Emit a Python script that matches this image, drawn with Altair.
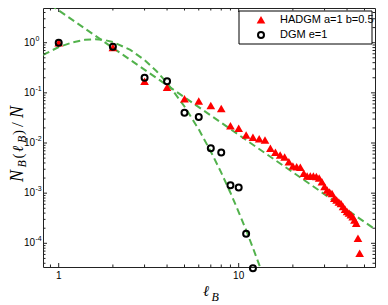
import altair as alt
import pandas as pd

# ---- data ----
dgm_x = [1, 2, 3, 4, 5, 6, 7, 8, 9, 10, 11, 12]
dgm_y = [1.0, 0.83, 0.20, 0.17, 0.040, 0.033, 0.0079, 0.0065, 0.00143, 0.0013, 1.55e-4, 3.2e-5]

had_x = list(range(1, 46)) + [46, 47]
had_y = [1.0, 0.80, 0.17, 0.13, 0.076, 0.069, 0.056, 0.049, 0.0221, 0.0196,
         0.01445, 0.0130, 0.0122, 0.01148, 0.00784, 0.00653, 0.00577, 0.00526, 0.00424, 0.00348,
         0.00337, 0.00327, 0.00249, 0.00220, 0.00220, 0.00220, 0.00215, 0.00200, 0.00169, 0.00135,
         0.00116, 0.00105, 0.00099, 0.00079, 0.00073, 0.00067, 0.00062, 0.00054, 0.00048, 0.00043,
         0.00040, 0.00037, 0.00034, 0.00029, 0.00025, 0.000126, 0.0000633]

fit_had_x = [0.8, 2, 5, 10, 20, 60]
fit_had_y = [7.65, 0.788, 0.0815, 0.01457, 0.00261, 1.69e-4]

fit_dgm_x = [0.818, 1.0, 1.2, 1.4, 1.6, 1.8, 2.0, 2.5, 3.0, 3.5, 4.0, 5.0, 6.0, 7.0, 8.0, 9.0, 10.0, 11.0, 12.0, 13.5]
fit_dgm_y = [0.57, 0.82, 1.02, 1.14, 1.17, 1.13, 1.03, 0.72, 0.45, 0.27, 0.158, 0.0535, 0.0187, 0.00676,
             0.00257, 0.00102, 4.2e-4, 1.83e-4, 8.1e-5, 2.6e-5]

x_major = [1, 10]
x_labels = ["1", "10"]
x_minor = [0.9, 2, 3, 4, 5, 6, 7, 8, 9, 20, 30, 40, 50]
y_major = [1, 0.1, 0.01, 0.001, 0.0001]
y_exp = ["0", "-1", "-2", "-3", "-4"]
y_minor = [m * d for d in [1, 0.1, 0.01, 0.001, 0.0001, 0.00001] for m in [2, 3, 4, 5, 6, 7, 8, 9]
           if 3.37e-5 < m * d < 4.92]

legend_labels = ["HADGM a=1 b=0.5", "DGM e=1"]

# ---- layout ----
W, H = 332, 259
GREEN = "#52b24c"
TICK = "#222222"
xs = alt.Scale(type="log", domain=[0.818, 57.2], nice=False)
ys = alt.Scale(type="log", domain=[3.37e-5, 4.92], nice=False)

dgm = pd.DataFrame({"x": dgm_x, "y": dgm_y})
had = pd.DataFrame({"x": had_x, "y": had_y})
fh = pd.DataFrame({"x": fit_had_x, "y": fit_had_y})
fd = pd.DataFrame({"x": fit_dgm_x, "y": fit_dgm_y})
one = pd.DataFrame({"a": [0]})

X = lambda: alt.X("x:Q", scale=xs, axis=None)
Y = lambda: alt.Y("y:Q", scale=ys, axis=None)

line_had = alt.Chart(fh).mark_line(clip=True, color=GREEN, strokeWidth=2, strokeDash=[7, 4]).encode(x=X(), y=Y())
line_dgm = alt.Chart(fd).mark_line(clip=True, color=GREEN, strokeWidth=2, strokeDash=[7, 4]).encode(x=X(), y=Y())

tri = alt.Chart(had).mark_point(shape="triangle-up", filled=True, size=75, color="red", opacity=1).encode(x=X(), y=Y())
circ = alt.Chart(dgm).mark_point(shape="circle", filled=False, size=36, strokeWidth=2, color="black",
                                 opacity=1).encode(x=X(), y=Y())


def xticks(vals, L):
    d = pd.DataFrame({"x": vals})
    b = alt.Chart(d).mark_rule(color=TICK, strokeWidth=1).encode(x=X(), y=alt.value(H), y2=alt.value(H - L))
    t = alt.Chart(d).mark_rule(color=TICK, strokeWidth=1).encode(x=X(), y=alt.value(0), y2=alt.value(L))
    return [b, t]


def yticks(vals, L):
    d = pd.DataFrame({"y": vals})
    l = alt.Chart(d).mark_rule(color=TICK, strokeWidth=1).encode(y=Y(), x=alt.value(0), x2=alt.value(L))
    r = alt.Chart(d).mark_rule(color=TICK, strokeWidth=1).encode(y=Y(), x=alt.value(W), x2=alt.value(W - L))
    return [l, r]


ticks = xticks(x_major, 4) + xticks(x_minor, 2.5) + yticks(y_major, 4) + yticks(y_minor, 2.5)

xlab = pd.DataFrame({"x": x_major, "t": x_labels})
xlabels = alt.Chart(xlab).mark_text(align="center", baseline="middle", fontSize=10, font="Liberation Sans",
                                    color="black").encode(x=X(), y=alt.value(H + 9), text="t:N")

ylab = pd.DataFrame({"y": y_major, "e": y_exp})
ybase = alt.Chart(ylab).mark_text(align="right", baseline="middle", fontSize=10, font="Liberation Sans",
                                  color="black").encode(x=alt.value(-8), y=Y(), text=alt.value("10"))
yexp = alt.Chart(ylab).mark_text(align="left", baseline="middle", fontSize=7, font="Liberation Sans",
                                 color="black", dy=-4).encode(x=alt.value(-7.5), y=Y(), text="e:N")


def txt(s, x, y, size, font="Liberation Serif", angle=0, italic=True, align="left", baseline="alphabetic"):
    kw = dict(align=align, baseline=baseline, fontSize=size, font=font, color="black")
    if italic:
        kw["fontStyle"] = "italic"
    if angle:
        kw["angle"] = angle
    return alt.Chart(one).mark_text(**kw).encode(x=alt.value(x), y=alt.value(y), text=alt.value(s))


MB, SB = -20, -17
ytitle = [
    txt("N", MB, 174, 18, angle=270),
    txt("B", SB, 159.5, 12, angle=270),
    txt("(", MB, 150.5, 15, italic=False, angle=270),
    txt("ℓ", MB, 144, 15, font="DejaVu Serif", angle=270),
    txt("B", SB, 135, 12, angle=270),
    txt(")", MB, 127, 15, italic=False, angle=270),
    txt("/", MB, 119, 17, italic=False, angle=270),
    txt("N", MB, 110, 18, angle=270),
]
xtitle = [
    txt("ℓ", 160, 288, 15, font="DejaVu Serif"),
    txt("B", 168.5, 293, 12),
]

leg_box = alt.Chart(one).mark_rect(fill="white", stroke="black", strokeWidth=1).encode(
    x=alt.value(196), x2=alt.value(329), y=alt.value(3), y2=alt.value(36))
leg_tri = alt.Chart(one).mark_point(shape="triangle-up", filled=True, size=75, color="red", opacity=1).encode(
    x=alt.value(218), y=alt.value(11.7))
leg_circ = alt.Chart(one).mark_point(shape="circle", filled=False, size=36, strokeWidth=2, color="black",
                                     opacity=1).encode(x=alt.value(218), y=alt.value(27))
leg_t1 = txt(legend_labels[0], 237, 11.7, 11, font="Liberation Sans", italic=False, baseline="middle")
leg_t2 = txt(legend_labels[1], 237, 27, 11, font="Liberation Sans", italic=False, baseline="middle")

chart = alt.layer(
    line_had, line_dgm, tri, circ, *ticks, xlabels, ybase, yexp, *ytitle, *xtitle,
    leg_box, leg_tri, leg_circ, leg_t1, leg_t2
).properties(
    width=W, height=H,
    autosize=alt.AutoSizeParams(type="none"),
    padding={"left": 35, "top": 0, "right": 5, "bottom": 38},
).configure_view(stroke="#222222", strokeWidth=1)

chart.save("out.html", embed_options={"renderer": "svg", "actions": False})
